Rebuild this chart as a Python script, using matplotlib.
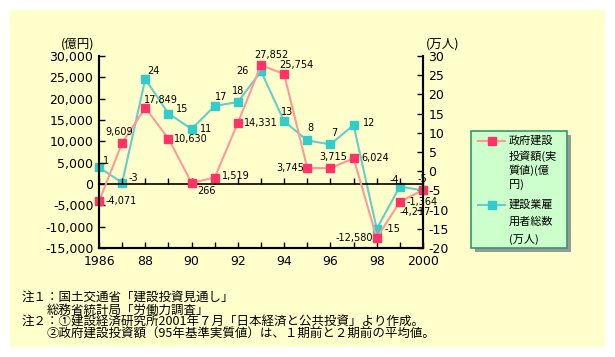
import matplotlib
matplotlib.use("Agg")
import matplotlib.pyplot as plt
from matplotlib.patches import Rectangle
from matplotlib.lines import Line2D

plt.rcParams['font.family'] = ['DejaVu Sans', 'Noto Sans CJK JP']
JP = ['Noto Sans CJK JP', 'DejaVu Sans']

# data
years = list(range(1986, 2001))
invest = [-4071, 9609, 17849, 10630, 266, 1519, 14331, 27852, 25754,
          3745, 3715, 6024, -12580, -4217, -1364]          # 億円
workers = [1, -3, 24, 15, 11, 17, 18, 26, 13, 8, 7, 12, -15, -4, -5]  # 万人
invest_labels = ['-4,071', '9,609', '17,849', '10,630', '266', '1,519', '14,331',
                 '27,852', '25,754', '3,745', '3,715', '6,024', '-12,580',
                 '-4,217', '-1,364']
year_labels = ['1986', '', '88', '', '90', '', '92', '', '94', '', '96', '',
               '98', '', '2000']
left_ticks = list(range(-15000, 30001, 5000))
right_ticks = list(range(-20, 31, 5))
legend_invest = ['政府建設', '投資額(実', '質値)(億', '円)']
legend_workers = ['建設業雇', '用者総数', '(万人)']
notes = ['注１：国土交通省「建設投資見通し」',
         '総務省統計局「労働力調査」',
         '注２：①建設経済研究所2001年７月「日本経済と公共投資」より作成。',
         '②政府建設投資額（95年基準実質値）は、１期前と２期前の平均値。']

# label offsets in pixels (dx, dy, ha)
red_off = [(7, 0, 'left'), (-3, 11, 'center'), (-1, 8, 'left'), (6, 0, 'left'),
           (6, -8, 'left'), (7, 2, 'left'), (6, 0, 'left'), (10, 10, 'center'),
           (-5, 9, 'left'), (-3, 0, 'right'), (3, 11, 'center'), (8, 0, 'left'),
           (-4, 0, 'right'), (0, -10, 'left'), (-1, -12, 'center')]
cyan_off = [(4, 6, 'left'), (6, 5, 'left'), (2, 8, 'left'), (8, 5, 'left'),
            (8, 0, 'left'), (6, 9, 'center'), (0, 11, 'center'), (-12, 0, 'right'),
            (3, 9, 'center'), (3, 12, 'center'), (4, 11, 'center'), (9, 2, 'left'),
            (8, 0, 'left'), (-1, 7, 'right'), (-1, 11, 'center')]

W, H = 615, 357
fig = plt.figure(figsize=(W / 100, H / 100), dpi=100)
fig.patch.set_facecolor('white')


def fx(px):
    return px / W


def fy(py):
    return 1 - py / H


fig.patches.append(Rectangle((fx(10), fy(347)), fx(595), 337 / H,
                             transform=fig.transFigure, fc='#FFFFCC', ec='none', zorder=-10))

ax = fig.add_axes([fx(99), fy(248), 324 / W, 192 / H])
ax2 = ax.twinx()
ax.set_zorder(ax2.get_zorder() + 1)
ax.patch.set_visible(False)
ax2.patch.set_visible(False)

red_line = '#FF9999'
red_mark = '#FF3366'
cy_line = '#66CCCC'
cy_mark = '#33CCCC'

ax.plot(years, invest, color=red_line, lw=1.5, marker='s', ms=6,
        mfc=red_mark, mec=red_mark, clip_on=False)
ax2.plot(years, workers, color=cy_line, lw=1.5, marker='s', ms=6,
         mfc=cy_mark, mec=cy_mark, clip_on=False)

for x, v, t, (dx, dy, ha) in zip(years, invest, invest_labels, red_off):
    ax.annotate(t, (x, v), xytext=(dx, dy), textcoords='offset pixels',
                ha=ha, va='center', fontsize=7, annotation_clip=False)
for x, v, (dx, dy, ha) in zip(years, workers, cyan_off):
    ax2.annotate(str(v), (x, v), xytext=(dx, dy), textcoords='offset pixels',
                 ha=ha, va='center', fontsize=7, annotation_clip=False)

ax.set_xlim(1986, 2000)
ax.set_ylim(-15000, 30000)
ax2.set_ylim(-20, 30)

for a in (ax, ax2):
    a.spines['top'].set_visible(False)
    for s in ('left', 'right', 'bottom'):
        a.spines[s].set_linewidth(1.5)

ax.set_xticks(years, labels=year_labels)
ax.set_yticks(left_ticks, labels=[f'{v:,}' for v in left_ticks])
ax.tick_params(axis='x', direction='in', length=4, width=1, pad=5, labelsize=9)
ax.tick_params(axis='y', direction='in', length=4, width=1, pad=4, labelsize=9)
ax2.set_yticks(right_ticks, labels=[str(v) for v in right_ticks])
ax2.tick_params(axis='y', direction='in', length=4, width=1, pad=4, labelsize=9)

# zero line with year ticks
ax.axhline(0, color='black', lw=1.2, zorder=1)
zero_pos = (0 - ax.get_ylim()[0]) / (ax.get_ylim()[1] - ax.get_ylim()[0])
sec = ax.secondary_xaxis(zero_pos)
sec.set_xticks(years)
sec.tick_params(direction='in', length=4, width=1, labelbottom=False, labeltop=False)
sec.spines[:].set_visible(False)

fig.text(fx(61), fy(44), '(億円)', fontsize=9, family=JP, va='center', ha='left')
fig.text(fx(426), fy(44), '(万人)', fontsize=9, family=JP, va='center', ha='left')

# legend box
fig.patches.append(Rectangle((fx(475), fy(252)), 96 / W, 117 / H,
                             transform=fig.transFigure, fc='#999999', ec='none', zorder=5))
fig.patches.append(Rectangle((fx(471), fy(248)), 96 / W, 117 / H,
                             transform=fig.transFigure, fc='#CCFFCC', ec='#339966',
                             lw=1.2, zorder=6))
row_y = [141, 156, 170, 185]
for t, yy in zip(legend_invest, row_y):
    fig.text(fx(509), fy(yy), t, fontsize=8, family=JP, va='center', ha='left', zorder=7)
row_y2 = [205, 222, 239]
for t, yy in zip(legend_workers, row_y2):
    fig.text(fx(509), fy(yy), t, fontsize=8, family=JP, va='center', ha='left', zorder=7)
fig.lines.append(Line2D([fx(478), fx(505)], [fy(141), fy(141)], transform=fig.transFigure,
                        color=red_line, lw=1.5, zorder=7))
fig.lines.append(Line2D([fx(492)], [fy(141)], transform=fig.transFigure, marker='s',
                        ms=6, mfc=red_mark, mec=red_mark, zorder=8))
fig.lines.append(Line2D([fx(478), fx(505)], [fy(205), fy(205)], transform=fig.transFigure,
                        color=cy_line, lw=1.5, zorder=7))
fig.lines.append(Line2D([fx(492)], [fy(205)], transform=fig.transFigure, marker='s',
                        ms=6, mfc=cy_mark, mec=cy_mark, zorder=8))

# notes
note_xy = [(22, 298), (47, 310), (22, 322), (47, 334)]
for t, (nx, ny) in zip(notes, note_xy):
    fig.text(fx(nx), fy(ny), t, fontsize=9, family=JP, va='center', ha='left')

fig.savefig('out.png', dpi=100, facecolor='white')
